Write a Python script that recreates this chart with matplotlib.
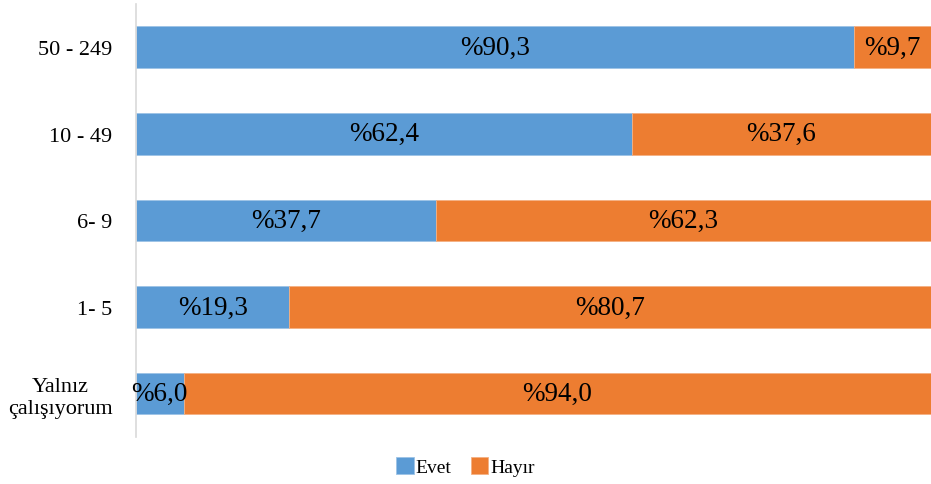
import numpy as np
import matplotlib.pyplot as plt

categories = ["Yalnız\nçalışıyorum", "1- 5", "6- 9", "10 - 49", "50 - 249"]
evet = [6.0, 19.3, 37.7, 62.4, 90.3]
hayir = [94.0, 80.7, 62.3, 37.6, 9.7]
series_names = ["Evet", "Hayır"]
colors = ["#5B9BD5", "#ED7D31"]

plt.rcParams["font.family"] = ["Liberation Serif", "DejaVu Serif"]

fig = plt.figure(figsize=(9.31, 4.85), dpi=100)
ax = fig.add_axes([0.146, 0.097, 0.854, 0.893])

y = np.arange(len(categories))
h = 0.48
b1 = ax.barh(y, evet, height=h, color=colors[0], edgecolor="#9dc3e6", linewidth=0.6, label=series_names[0])
b2 = ax.barh(y, hayir, left=evet, height=h, color=colors[1], edgecolor="#f4b183", linewidth=0.6, label=series_names[1])

for bars, vals, lefts in [(b1, evet, [0] * len(evet)), (b2, hayir, evet)]:
    for rect, v, l in zip(bars, vals, lefts):
        txt = "%" + f"{v:.1f}".replace(".", ",")
        ax.text(l + v / 2, rect.get_y() + rect.get_height() / 2, txt,
                ha="center", va="center", fontsize=19.5, color="black")

ax.set_xlim(0, 100)
ax.set_ylim(-0.5, len(categories) - 0.5)
ax.set_yticks(y)
ax.set_yticklabels(categories, fontsize=16, multialignment="center")
ax.tick_params(axis="y", length=0, pad=17)
ax.set_xticks([])
for s in ["top", "right", "bottom"]:
    ax.spines[s].set_visible(False)
ax.spines["left"].set_color("#d9d9d9")
ax.spines["left"].set_linewidth(1.2)

fig.legend(loc="lower center", bbox_to_anchor=(0.5, -0.02), ncol=2, frameon=False,
           fontsize=14, handlelength=0.9, handleheight=0.9, handletextpad=0.1,
           columnspacing=1.0)

fig.savefig("out.png", dpi=100)
